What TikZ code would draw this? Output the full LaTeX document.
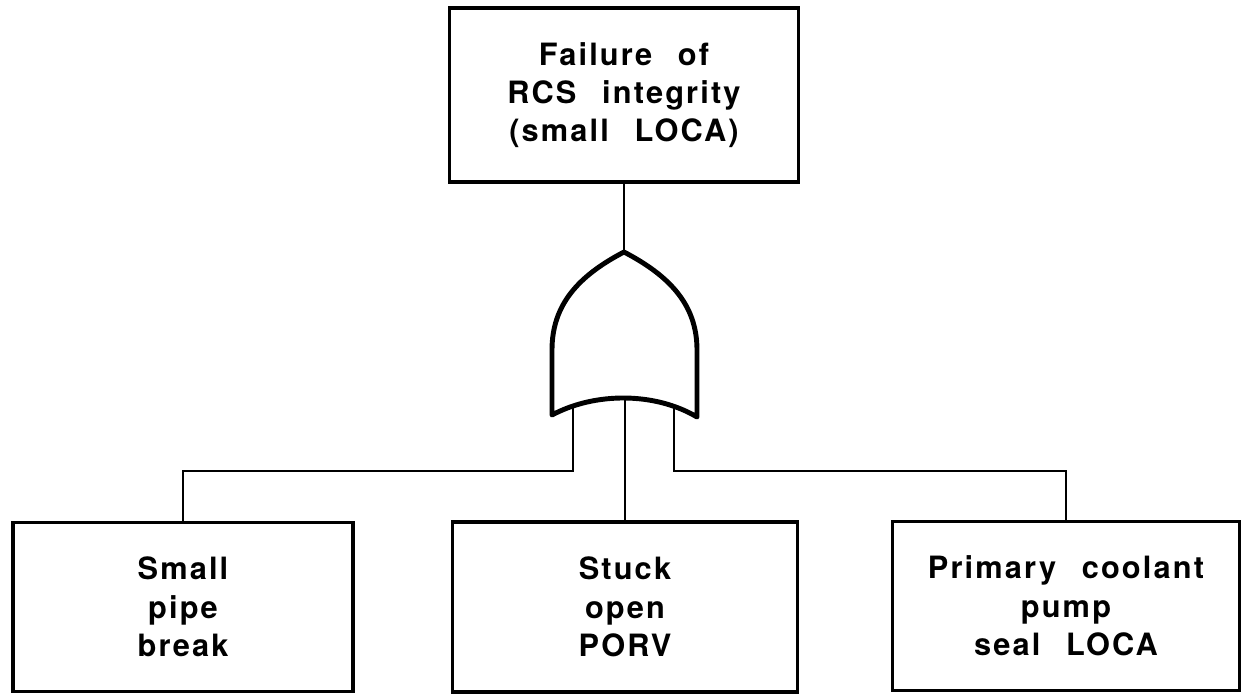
\documentclass[tikz,border=0pt]{standalone}
\usepackage{fontspec}
\setmainfont[LetterSpace=7,WordSpace=2.4]{TeX Gyre Heros}
\tikzstyle{event} = [draw,line width=2pt,align=center,inner sep=0pt,font=\fontsize{17.5}{21.8}\selectfont\bfseries]
\tikzstyle{wire} = [line width=1.3pt]
\tikzstyle{orgate} = [line width=2.8pt,fill=white,line join=round]

\begin{document}
\begin{tikzpicture}[x=0.02cm,y=-0.02cm]
      \useasboundingbox (0,0) rectangle (1244,694);

      \node[event] [minimum width=6.98cm, minimum height=3.48cm] (top) at (624, 95) {Failure of\\RCS integrity\\(small LOCA)};
      \node[event] [minimum width=6.8cm, minimum height=3.38cm] (pipe) at (183, 607) {Small\\pipe\\break};
      \node[event] [minimum width=6.9cm, minimum height=3.4cm] (porv) at (625, 607) {Stuck\\open\\PORV};
      \node[event] [minimum width=6.94cm, minimum height=3.38cm] (seal) at (1066, 606) {Primary coolant\\pump\\seal LOCA};

      \coordinate (gtop) at (624, 252);
      \coordinate (gl) at (573, 400);
      \coordinate (gc) at (625, 395);
      \coordinate (gr) at (674, 400);
      \coordinate (jl) at (573, 471);
      \coordinate (jr) at (674, 471);

      \draw[wire] (top) -- (gtop);
      \draw[wire] (gl) -- (jl) -| (pipe.north);
      \draw[wire] (gc) -- (porv.north);
      \draw[wire] (gr) -- (jr) -| (seal.north);

      % OR gate
      \draw[orgate] (gtop) .. controls (578, 276) and (552, 305) .. (552, 350) -- (552, 415)
        .. controls (595, 392) and (655, 392) .. (697, 417) -- (697, 350)
        .. controls (697, 305) and (670, 276) .. (gtop) -- cycle;
    \end{tikzpicture}
\end{document}
